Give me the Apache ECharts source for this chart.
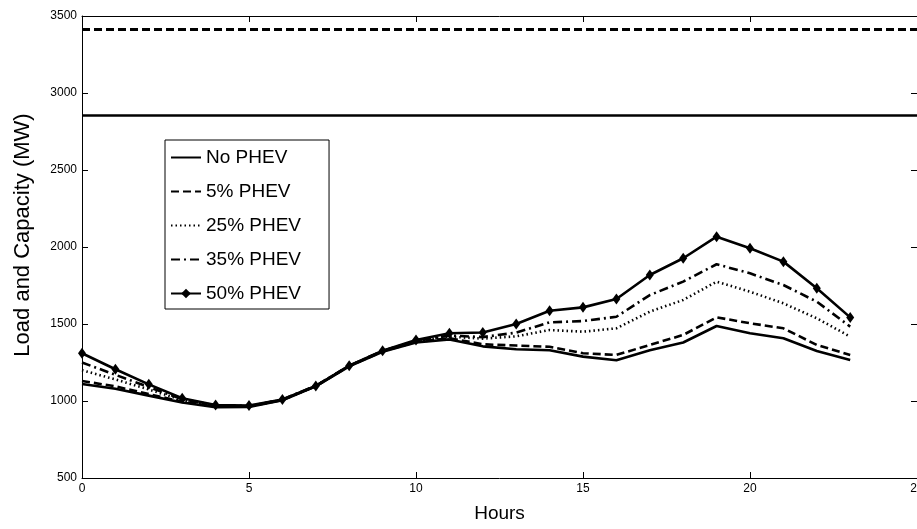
<!DOCTYPE html>
<html>
<head>
<meta charset="utf-8">
<script src="https://cdn.jsdelivr.net/npm/echarts@6/dist/echarts.min.js"></script>
<style>
html,body{margin:0;padding:0;background:#fff;}
#chart{width:917px;height:529px;}
</style>
</head>
<body>
<div id="chart"></div>
<script>
const hours = [0,1,2,3,4,5,6,7,8,9,10,11,12,13,14,15,16,17,18,19,20,21,22,23];
const noPhev = [1110,1080,1035,990,960,962,1005,1095,1225,1320,1380,1400,1355,1336,1330,1288,1265,1330,1380,1487,1440,1407,1325,1266];
const phev5  = [1130,1095,1045,995,965,964,1007,1097,1227,1322,1383,1408,1368,1360,1352,1310,1299,1364,1429,1543,1505,1472,1364,1299];
const phev25 = [1200,1140,1075,1005,968,966,1008,1098,1228,1325,1388,1418,1405,1420,1461,1450,1472,1580,1656,1775,1710,1634,1537,1418];
const phev35 = [1250,1170,1090,1012,972,967,1009,1099,1229,1326,1390,1425,1415,1444,1511,1519,1547,1688,1775,1888,1829,1753,1645,1483];
const phev50 = [1310,1206,1108,1018,974,970,1010,1097,1229,1327,1396,1440,1445,1500,1586,1608,1662,1818,1927,2067,1992,1905,1732,1543];
const capacitySolid = 2857;
const capacityDashed = 3413;
const seriesNames = ['No PHEV','5% PHEV','25% PHEV','35% PHEV','50% PHEV'];
const xTicks = [0,5,10,15,20,25];
const yTicks = [500,1000,1500,2000,2500,3000,3500];

const pairs = arr => hours.map((h,i)=>[h, arr[i]]);
const tickFont = {fontFamily:'"Liberation Sans Narrow","Liberation Sans",Arial,sans-serif', fontSize:12, color:'#000'};
const axisLine = {show:true, onZero:false, lineStyle:{color:'#000', width:1}};
const tick = {show:true, inside:true, length:6, lineStyle:{color:'#000', width:1}};
const plain = v => String(v);

const chart = echarts.init(document.getElementById('chart'), null, {renderer:'canvas'});
const base = {type:'line', showSymbol:false, symbol:'none', animation:false, xAxisIndex:0, yAxisIndex:0};
chart.setOption({
  backgroundColor:'#fff',
  animation:false,
  grid:{left:82, top:16, right:0, bottom:51, containLabel:false, outerBoundsMode:'none'},
  legend:{
    orient:'vertical', left:165, top:140,
    data:seriesNames.map((n,i)=> i < 4 ? {name:n, itemStyle:{opacity:0}} : {name:n}),
    backgroundColor:'#fff', borderColor:'#000', borderWidth:1,
    padding:[8,28,6,5],
    itemWidth:30, itemHeight:12, itemGap:15,
    textStyle:{fontFamily:'"Liberation Sans",Arial,sans-serif', fontSize:19, color:'#000'}
  },
  xAxis:[
    {type:'value', min:xTicks[0], max:xTicks[xTicks.length-1], interval:5, position:'bottom',
     name:'Hours', nameLocation:'middle', nameGap:26,
     nameTextStyle:{fontFamily:'"Liberation Sans",Arial,sans-serif', fontSize:19, color:'#000'},
     axisLine, axisTick:tick, axisLabel:Object.assign({margin:5, formatter:plain}, tickFont), splitLine:{show:false}},
    {type:'value', min:xTicks[0], max:xTicks[xTicks.length-1], interval:5, position:'top',
     axisLine, axisTick:tick, axisLabel:{show:false}, splitLine:{show:false}}
  ],
  yAxis:[
    {type:'value', min:yTicks[0], max:yTicks[yTicks.length-1], interval:500, position:'left',
     name:'Load and Capacity (MW)', nameLocation:'middle', nameGap:48, nameRotate:90,
     nameTextStyle:{fontFamily:'"Liberation Sans",Arial,sans-serif', fontSize:22, color:'#000', padding:[0,0,0,24]},
     axisLine, axisTick:tick, axisLabel:Object.assign({margin:5, formatter:plain}, tickFont), splitLine:{show:false}},
    {type:'value', min:yTicks[0], max:yTicks[yTicks.length-1], interval:500, position:'right',
     axisLine, axisTick:tick, axisLabel:{show:false}, splitLine:{show:false}}
  ],
  series:[
    Object.assign({}, base, {name:seriesNames[0], data:pairs(noPhev),
      lineStyle:{color:'#000', width:2.6, type:'solid'}, itemStyle:{color:'#000'},
      markLine:{silent:true, symbol:'none', label:{show:false}, animation:false,
        data:[
          {yAxis:capacitySolid, lineStyle:{color:'#000', width:2.6, type:'solid'}},
          {yAxis:capacityDashed, lineStyle:{color:'#000', width:2.8, type:[8,4]}}
        ]}}),
    Object.assign({}, base, {name:seriesNames[1], data:pairs(phev5),
      lineStyle:{color:'#000', width:2.6, type:[8,4]}, itemStyle:{color:'#000'}}),
    Object.assign({}, base, {name:seriesNames[2], data:pairs(phev25),
      lineStyle:{color:'#000', width:2.6, type:[1.5,3]}, itemStyle:{color:'#000'}}),
    Object.assign({}, base, {name:seriesNames[3], data:pairs(phev35),
      lineStyle:{color:'#000', width:2.6, type:[9,4,2,4]}, itemStyle:{color:'#000'}}),
    Object.assign({}, base, {name:seriesNames[4], data:pairs(phev50), showSymbol:true, symbol:'diamond', symbolSize:[8,11],
      lineStyle:{color:'#000', width:2.6, type:'solid'}, itemStyle:{color:'#000'}})
  ]
});
</script>
</body>
</html>
